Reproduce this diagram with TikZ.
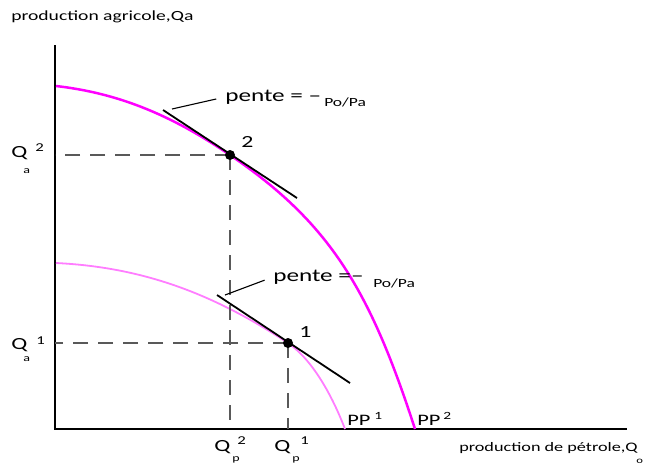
\documentclass[tikz,border=0pt]{standalone}
\usepackage{fontspec}
\setmainfont{Carlito}
\usetikzlibrary{positioning}
\definecolor{fuchsia}{RGB}{255,0,255}
\definecolor{rosepale}{RGB}{255,125,255}

\begin{document}
\begin{tikzpicture}[x=1pt,y=-1pt,
  lbl/.style={inner sep=0pt,anchor=west,xscale=1.4,font=\fontsize{#1}{#1}\selectfont},
  axe/.style={line width=2pt},
  ppun/.style={rosepale,line width=1.8pt},
  ppdeux/.style={fuchsia,line width=2.5pt},
  tang/.style={line width=1.8pt},
  guide/.style={black!65,line width=1.4pt,dash pattern=on 15pt off 10pt},
  fleche/.style={line width=1.1pt,shorten >=9pt},
  pt/.style={circle,fill,inner sep=0pt,minimum size=10pt}]
\useasboundingbox (0,0) rectangle (647,464);

% axes
\coordinate (o) at (55,429);
\coordinate (ytop) at (55,45);
\coordinate (xend) at (627,429);
\draw[axe] (ytop) -- (o) -- (xend);
\node[lbl=14] (yl) at (11,17) {production agricole,Qa};
\node[lbl=13] (xl) at (459,448) {production de pétrole,Q};
\node[lbl=9] (xlo) at (636,461) {o};

% frontiers
\coordinate (p2) at (230,155);
\coordinate (p1) at (288,343);
\draw[ppun] (56,263) .. controls (137,267) and (208,290) .. (p1)
      .. controls (310,358) and (330,390) .. (345,429);
\draw[ppdeux] (56,86) .. controls (117,93) and (170,114) .. (p2)
      .. controls (330,223) and (370,290) .. (415,429);

% dashed guides
\draw[guide] (p2) -- (p2 -| o) (p2) -- (p2 |- o);
\draw[guide] (p1) -- (p1 -| o) (p1) -- (p1 |- o);

% tangents
\coordinate (t2a) at (163,110);
\coordinate (t2b) at (297,198);
\coordinate (t1a) at (217,295);
\coordinate (t1b) at (350,383);
\draw[tang] (t2a) -- (t2b);
\draw[tang] (t1a) -- (t1b);
\node[pt] (d2) at (p2) {};
\node[pt] (d1) at (p1) {};
\node[lbl=17] (n2) at (241,142) {2};
\node[lbl=17] (n1) at (299,332) {1};

% slopes
\node[lbl=18] (pente2) at (225,97) {pente = –};
\node[lbl=12.5] (pp2) at (324,102) {Po/Pa};
\coordinate (l2) at (172,109);
\draw[fleche] (l2) -- (pente2.west);
\node[lbl=18] (pente1) at (273,277) {pente =–};
\node[lbl=12.5] (pp1) at (373,283) {Po/Pa};
\coordinate (l1) at (225,295);
\draw[fleche] (l1) -- (pente1.west);

% curve names
\node[lbl=16] (c1) at (347,420) {PP};
\node[lbl=11] (c1e) at (374,416) {1};
\node[lbl=16] (c2) at (417,420) {PP};
\node[lbl=11] (c2e) at (443,416) {2};

% axis values
\node[lbl=17] (qa2) at (11,153) {Q};
\node[lbl=12] (qa2e) at (35,148) {2};
\node[lbl=10] (qa2i) at (23,171) {a};
\node[lbl=17] (qa1) at (11,345) {Q};
\node[lbl=12] (qa1e) at (36,341) {1};
\node[lbl=10] (qa1i) at (23,359) {a};
\node[lbl=17] (qp2) at (214,447) {Q};
\node[lbl=12] (qp2e) at (237,441) {2};
\node[lbl=10] (qp2i) at (232,460) {p};
\node[lbl=17] (qp1) at (274,447) {Q};
\node[lbl=12] (qp1e) at (300,441) {1};
\node[lbl=10] (qp1i) at (292,460) {p};
\end{tikzpicture}
\end{document}
